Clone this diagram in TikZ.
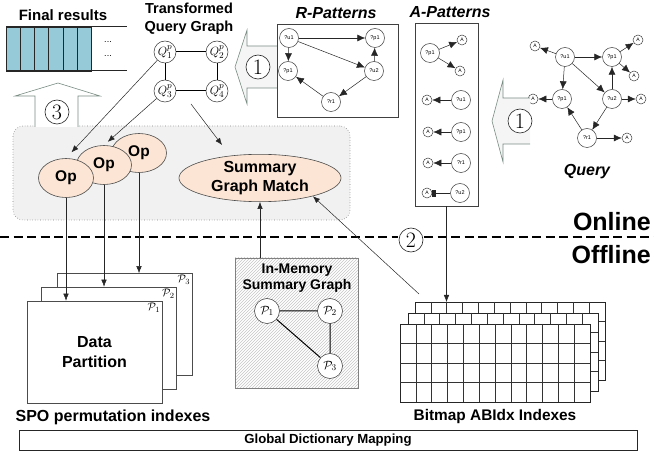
\documentclass[tikz,border=0pt]{standalone}
\usepackage[no-math]{fontspec}
\newfontfamily\arial{Liberation Sans}
\usetikzlibrary{arrows.meta,patterns,shapes.geometric}
\definecolor{resblue}{RGB}{150,202,216}
\definecolor{peach}{RGB}{252,229,212}
\definecolor{boxgrey}{RGB}{241,241,241}
\definecolor{arrline}{RGB}{120,140,130}
\begin{document}
\begin{tikzpicture}[x=1pt,y=-1pt,
  lbl/.style={font=\arial\bfseries\fontsize{15}{17}\selectfont, align=center, inner sep=0},
  ttl/.style={font=\arial\bfseries\itshape\fontsize{16}{18}\selectfont, inner sep=0},
  pn/.style={circle, draw=black!75, line width=0.5pt, fill=white, minimum size=19pt, inner sep=0, font=\arial\fontsize{5.5}{6}\selectfont},
  an/.style={circle, draw=black!75, line width=0.5pt, fill=white, minimum size=10pt, inner sep=0, font=\arial\fontsize{5}{5}\selectfont},
  pa/.style={-{Latex[length=8pt,width=7pt]}, black!85, line width=0.5pt},
  arr/.style={-{Latex[length=7pt,width=5.5pt]}, black!85, line width=0.5pt},
  qn/.style={circle, draw=black!80, line width=0.5pt, fill=white, minimum size=22pt, inner sep=0, font=\fontsize{12.5}{12.5}\selectfont},
  opn/.style={ellipse, draw=black!70, line width=0.6pt, fill=peach, minimum width=55pt, minimum height=39pt, inner sep=0, font=\arial\bfseries\fontsize{15.5}{17}\selectfont},
  cnum/.style={circle, draw=black!85, line width=0.6pt, fill=white, minimum size=24pt, inner sep=0, font=\fontsize{22}{22}\selectfont},
  bigarr/.style={draw=arrline, line width=0.6pt, fill=gray!8},
  spn/.style={circle, draw=black!80, line width=0.5pt, fill=white, minimum size=25pt, inner sep=0, font=\fontsize{12.5}{12.5}\selectfont},
  pbox/.style={rectangle, draw=black!70, line width=0.6pt, fill=white, minimum width=135pt, minimum height=102pt, inner sep=0},
  gline/.style={black!80, line width=0.5pt},
]
\useasboundingbox (0,0) rectangle (654,457);

% ---------- Final results ----------
\node[lbl] (fr) at (63,15) {Final results};
\foreach \i in {0,...,5}
  \draw[fill=resblue, draw=black!85, line width=0.6pt] ({6+\i*14.2},27) rectangle ++(14.2,44);
\draw[black!85, line width=1pt] (6,27) -- (127,27);
\draw[black!85, line width=1pt] (6,71) -- (127,71);
\node[font=\arial\fontsize{9}{9}\selectfont, inner sep=0] (dots1) at (108,42) {...};
\node[font=\arial\fontsize{9}{9}\selectfont, inner sep=0] (dots2) at (108,56) {...};

% ---------- online box ----------
\node[draw=gray, dotted, line width=0.6pt, fill=boxgrey, rounded corners=10pt, minimum width=337pt, minimum height=94pt, inner sep=0] (onbox) at (181.5,173) {};

% ---------- arrow 3 ----------
\draw[draw=arrline, line width=0.6pt, fill=white] (35,127) -- (35,96) -- (15,96) -- (58,83) -- (100,96) -- (78,96) -- (78,127);
\node[cnum] (c3) at (57,112) {3};

% ---------- Transformed query graph ----------
\node[lbl, font=\arial\bfseries\fontsize{14.5}{18}\selectfont] (tq) at (189,19) {Transformed\\Query Graph};
\node[qn] (q1) at (165,52) {$Q^{p}_{1}$};
\node[qn] (q2) at (217,52) {$Q^{p}_{2}$};
\node[qn] (q3) at (165,91) {$Q^{p}_{3}$};
\node[qn] (q4) at (217,91) {$Q^{p}_{4}$};
\draw[black, line width=1pt] (q1) -- (q2) (q2) -- (q4) (q4) -- (q3) (q3) -- (q1);
\coordinate (qb) at (191,104);

% ---------- arrow 1 (left) ----------
\draw[bigarr] (277,46) -- (247,46) -- (247,30) -- (235,67) -- (247,104) -- (247,88) -- (277,88);
\node[cnum] (c1a) at (258,67) {1};

% ---------- R-Patterns ----------
\node[ttl] (rt) at (336,13) {R-Patterns};
\node[rectangle, draw=black!75, line width=0.6pt, fill=white, minimum width=121pt, minimum height=93pt, inner sep=0] (rbox) at (337.5,70.5) {};
\node[pn] (ru1) at (289,38) {?u1};
\node[pn] (rp1a) at (375,38) {?p1};
\node[pn] (rp1b) at (288,71) {?p1};
\node[pn] (ru2) at (374,71) {?u2};
\node[pn] (rr1) at (331,102) {?r1};
\draw[pa] (ru1) -- (rp1a);
\draw[pa] (ru1) -- (rp1b);
\draw[pa] (ru1) -- (ru2);
\draw[pa] (ru2) -- (rp1a);
\draw[pa] (ru2) -- (rr1);
\draw[pa] (rr1) -- (rp1b);

% ---------- A-Patterns ----------
\node[ttl] (at) at (450,12) {A-Patterns};
\node[rectangle, draw=black!75, line width=0.6pt, fill=white, minimum width=63pt, minimum height=183pt, inner sep=0] (abox) at (446.5,114.5) {};
\node[pn] (ap1) at (430,53) {?p1};
\node[an] (aA1) at (462,40) {A};
\node[an] (aA2) at (460,71) {A};
\draw[pa] (ap1) -- (aA1);
\draw[pa] (ap1) -- (aA2);
\node[pn] (au1) at (461,100) {?u1};
\node[an] (aA3) at (427,100) {A};
\draw[pa] (au1) -- (aA3);
\node[pn] (ap2) at (461,132) {?p1};
\node[an] (aA4) at (428,132) {A};
\draw[pa] (ap2) -- (aA4);
\node[pn] (ar1) at (461,163) {?r1};
\node[an] (aA5) at (428,163) {A};
\draw[pa] (ar1) -- (aA5);
\node[pn] (au2) at (460,193) {?u2};
\node[an] (aA6) at (427,193) {A};
\draw[black!85, line width=0.5pt, -{Rectangle[length=3.5pt,width=6.5pt]}] (au2) -- (aA6);

% ---------- Query ----------
\node[pn] (qu1) at (565,57) {?u1};
\node[an] (qA1) at (535,46) {A};
\node[pn] (qp1) at (612,57) {?p1};
\node[an] (qA2) at (638,40) {A};
\node[an] (qA3) at (634,76) {A};
\node[pn] (qp2) at (562,99) {?p1};
\node[an] (qA4) at (533,99) {A};
\node[pn] (qu2) at (612,99) {?u2};
\node[an] (qA5) at (641,99) {A};
\node[pn] (qr1) at (587,138) {?r1};
\node[an] (qA6) at (627,138) {A};
\draw[pa] (qu1) -- (qA1);
\draw[pa] (qu1) -- (qp1);
\draw[pa] (qu1) -- (qp2);
\draw[pa] (qu1) -- (qu2);
\draw[pa] (qp1) -- (qA2);
\draw[pa] (qp1) -- (qA3);
\draw[pa] (qp2) -- (qA4);
\draw[pa] (qu2) -- (qp1);
\draw[pa] (qu2) -- (qA5);
\draw[pa] (qu2) -- (qr1);
\draw[pa] (qr1) -- (qp2);
\draw[pa] (qr1) -- (qA6);
\node[ttl] (qt) at (587,172) {Query};

% ---------- arrow 1 (right) ----------
\draw[bigarr] (530,98) -- (503,98) -- (503,80) -- (492,121) -- (503,162) -- (503,144) -- (530,144);
\node[cnum] (c1b) at (520,121) {1};

% ---------- Ops and summary match ----------
\node[opn] (op3) at (139,153) {Op};
\node[opn] (op2) at (104,165) {Op};
\node[opn] (op1) at (66,178) {Op};
\node[opn, minimum width=162pt, minimum height=46pt, align=center, font=\arial\bfseries\fontsize{16}{19}\selectfont] (sgm) at (260,178) {Summary\\Graph Match};
\coordinate (sgt) at (222,145);
\draw[arr, shorten >=8pt] (q1) -- (op1.north);
\draw[arr, shorten >=5pt] (q3) -- (op2.north);
\draw[arr] (qb) -- (sgt);

% ---------- online/offline ----------
\draw[black, line width=2.3pt, dash pattern=on 9pt off 4.5pt] (0,237) -- (398,237);
\draw[black, line width=2.3pt, dash pattern=on 9pt off 4.5pt] (424,237) -- (654,237);
\node[cnum] (c2) at (411,240) {2};
\node[font=\arial\bfseries\fontsize{25}{28}\selectfont, anchor=east, inner sep=0] (online) at (651,222) {Online};
\node[font=\arial\bfseries\fontsize{25}{28}\selectfont, anchor=east, inner sep=0] (offline) at (651,255) {Offline};

% ---------- data partitions ----------
\node[pbox] (p3) at (124.5,324.5) {};
\node[pbox] (p2) at (109,338) {};
\node[pbox] (p1) at (94.5,352) {};
\node[anchor=north east, inner sep=2pt, font=\fontsize{11}{11}\selectfont] (l3) at (p3.north east) {$\mathcal{P}_3$};
\node[anchor=north east, inner sep=2pt, font=\fontsize{11}{11}\selectfont] (l2) at (p2.north east) {$\mathcal{P}_2$};
\node[anchor=north east, inner sep=2pt, font=\fontsize{11}{11}\selectfont] (l1) at (p1.north east) {$\mathcal{P}_1$};
\node[lbl, font=\arial\bfseries\fontsize{16}{20}\selectfont] (dp) at (p1.center) {Data\\Partition};
\draw[arr] (op1.south) -- (op1.south |- p1.north);
\draw[arr] (op2.south) -- (op2.south |- p2.north);
\draw[arr] (op3.south) -- (op3.south |- p3.north);
\node[lbl, font=\arial\bfseries\fontsize{16}{18}\selectfont] (spo) at (113,417) {SPO permutation indexes};

% ---------- in-memory summary graph ----------
\node[rectangle, draw=gray, line width=0.6pt, pattern=north east lines, pattern color=gray!45, minimum width=123pt, minimum height=130pt, inner sep=0] (imbox) at (296.5,323) {};
\node[lbl, font=\arial\bfseries\fontsize{14}{16}\selectfont] (imt) at (297,278) {In-Memory\\Summary Graph};
\node[spn] (sp1) at (267,311) {$\mathcal{P}_1$};
\node[spn] (sp2) at (330,311) {$\mathcal{P}_2$};
\node[spn] (sp3) at (330,366) {$\mathcal{P}_3$};
\draw[black, line width=1pt] (sp1) -- (sp2) (sp2) -- (sp3) (sp1) -- (sp3);
\draw[arr] (sgm.south |- imbox.north) -- (sgm.south);

% ---------- bitmap ----------
\foreach \x/\y/\n in {415/302/bm3,408/313/bm2,400/324/bm1}{
  \node[rectangle, draw=black!85, line width=0.6pt, fill=white, minimum width=190pt, minimum height=78pt, inner sep=0, anchor=north west] (\n) at (\x,\y) {};
  \foreach \i in {1,...,11} \draw[gline] ({\x+\i*190/12},\y) -- ++(0,78);
  \foreach \j in {1,2,3} \draw[gline] (\x,{\y+\j*19.5}) -- ++(190,0);
}
\draw[arr] (abox.south) -- (abox.south |- bm3.north);
\coordinate (bms) at (419,294);
\draw[arr] (bms) -- (sgm.-19);
\node[lbl, font=\arial\bfseries\fontsize{15.4}{18}\selectfont] (bmt) at (495,417) {Bitmap ABIdx Indexes};

% ---------- global dictionary ----------
\node[rectangle, draw=black!85, line width=0.9pt, minimum width=618pt, minimum height=20pt, inner sep=0, font=\arial\bfseries\fontsize{13.2}{15}\selectfont] (gdm) at (328,440) {Global Dictionary Mapping};
\end{tikzpicture}
\end{document}
